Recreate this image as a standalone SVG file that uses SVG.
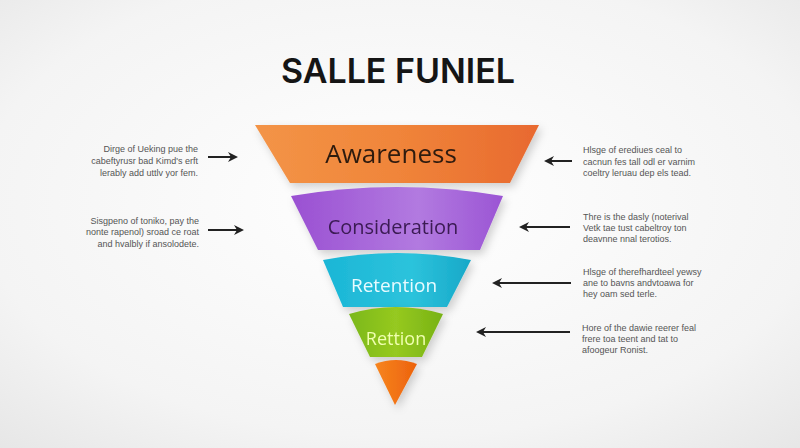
<svg xmlns="http://www.w3.org/2000/svg" width="800" height="448" viewBox="0 0 800 448">
<defs>
<radialGradient id="bg" cx="0.5" cy="0.45" r="0.75">
<stop offset="0" stop-color="#ffffff"/>
<stop offset="0.7" stop-color="#f4f4f4"/>
<stop offset="1" stop-color="#e6e6e6"/>
</radialGradient>
<linearGradient id="gOr" x1="0" y1="0" x2="1" y2="0">
<stop offset="0" stop-color="#f39447"/>
<stop offset="0.5" stop-color="#f0853a"/>
<stop offset="1" stop-color="#e8692f"/>
</linearGradient>
<linearGradient id="gPu" x1="0" y1="0" x2="1" y2="0">
<stop offset="0" stop-color="#9a50d2"/>
<stop offset="0.6" stop-color="#b27ae0"/>
<stop offset="1" stop-color="#9b55d4"/>
</linearGradient>
<linearGradient id="gCy" x1="0" y1="0" x2="1" y2="0">
<stop offset="0" stop-color="#1bb6d6"/>
<stop offset="0.6" stop-color="#2cc3dc"/>
<stop offset="1" stop-color="#17a8c8"/>
</linearGradient>
<linearGradient id="gGr" x1="0" y1="0" x2="1" y2="0">
<stop offset="0" stop-color="#7bb81a"/>
<stop offset="0.5" stop-color="#96c920"/>
<stop offset="1" stop-color="#78b214"/>
</linearGradient>
<linearGradient id="gTip" x1="0" y1="0" x2="1" y2="0">
<stop offset="0" stop-color="#f7851e"/>
<stop offset="1" stop-color="#ec620d"/>
</linearGradient>
<filter id="sh" x="-20%" y="-20%" width="140%" height="150%">
<feDropShadow dx="3" dy="4" stdDeviation="4" flood-color="#000" flood-opacity="0.18"/>
</filter>
<marker id="ah" viewBox="0 0 10 10" refX="8" refY="5" markerWidth="5" markerHeight="5" orient="auto-start-reverse">
<path d="M0,0 L10,5 L0,10 L3,5 Z" fill="#222"/>
</marker>
<style>
.lbl{font-family:"Open Sans","Liberation Sans",sans-serif;}
.note{font-family:"Liberation Sans",Arial,sans-serif;font-size:9px;fill:#555;}
.r{text-anchor:end;}
.arr{stroke:#222;stroke-width:2;fill:none;marker-end:url(#ah);}
</style>
</defs>
<rect width="800" height="448" fill="url(#bg)"/>
<text x="398" y="83" text-anchor="middle" font-family="Inter,'Liberation Sans',sans-serif" font-weight="600" font-size="34" fill="#151515">SALLE FUNIEL</text>

<g id="awareness" filter="url(#sh)">
<path d="M255,125 L539,125 L510,183 L290,183 Z" fill="url(#gOr)"/>
<text class="lbl" x="391" y="163" text-anchor="middle" font-size="26" fill="#2e1a10">Awareness</text>
</g>
<g id="consideration" filter="url(#sh)">
<path d="M291,196 Q397,178 503,196 L480,250 L318,250 Z" fill="url(#gPu)"/>
<text class="lbl" x="393" y="234" text-anchor="middle" font-size="20" fill="#3a1a52">Consideration</text>
</g>
<g id="retention" filter="url(#sh)">
<path d="M323,260 Q397,246 471,260 L447,307 L343,307 Z" fill="url(#gCy)"/>
<text class="lbl" x="394" y="292" text-anchor="middle" font-size="19" fill="#e8fbff">Retention</text>
</g>
<g id="rettion" filter="url(#sh)">
<path d="M349,314 Q396,300 443,314 L422,357 L370,357 Z" fill="url(#gGr)"/>
<text class="lbl" x="396" y="345" text-anchor="middle" font-size="18" fill="#f0ffb0">Rettion</text>
</g>
<g id="tip" filter="url(#sh)">
<path d="M375,364 Q396,356 417,364 L395,405 Z" fill="url(#gTip)"/>
</g>

<g id="connectors">
<line class="arr" x1="208" y1="157" x2="236" y2="157"/>
<line class="arr" x1="208" y1="230" x2="242" y2="230"/>
<line class="arr" x1="572" y1="161" x2="546" y2="161"/>
<line class="arr" x1="570" y1="227" x2="521" y2="227"/>
<line class="arr" x1="571" y1="283" x2="494" y2="283"/>
<line class="arr" x1="570" y1="332" x2="478" y2="332"/>
</g>

<g id="note-left-1">
<text class="note r" x="198" y="152">Dirge of Ueking pue the</text>
<text class="note r" x="198" y="164">cabeftyrusr bad Kimd's erft</text>
<text class="note r" x="198" y="176">lerably add uttlv yor fem.</text>
</g>
<g id="note-left-2">
<text class="note r" x="199" y="224">Sisgpeno of toniko, pay the</text>
<text class="note r" x="199" y="235">nonte rapenol) sroad ce roat</text>
<text class="note r" x="199" y="247">and hvalbly if ansolodete.</text>
</g>
<g id="note-right-1">
<text class="note" x="583" y="153">Hlsge of erediues ceal to</text>
<text class="note" x="583" y="165">cacnun fes tall odl er varnim</text>
<text class="note" x="583" y="176">coeltry leruau dep els tead.</text>
</g>
<g id="note-right-2">
<text class="note" x="583" y="220">Thre is the dasly (noterival</text>
<text class="note" x="583" y="231">Vetk tae tust cabeltroy ton</text>
<text class="note" x="583" y="242">deavnne nnal terotios.</text>
</g>
<g id="note-right-3">
<text class="note" x="583" y="275">Hlsge of therefhardteel yewsy</text>
<text class="note" x="583" y="286">ane to bavns andvtoawa for</text>
<text class="note" x="583" y="297">hey oam sed terle.</text>
</g>
<g id="note-right-4">
<text class="note" x="582" y="331">Hore of the dawie reerer feal</text>
<text class="note" x="582" y="342">frere toa teent and tat to</text>
<text class="note" x="582" y="353">afoogeur Ronist.</text>
</g>
</svg>
